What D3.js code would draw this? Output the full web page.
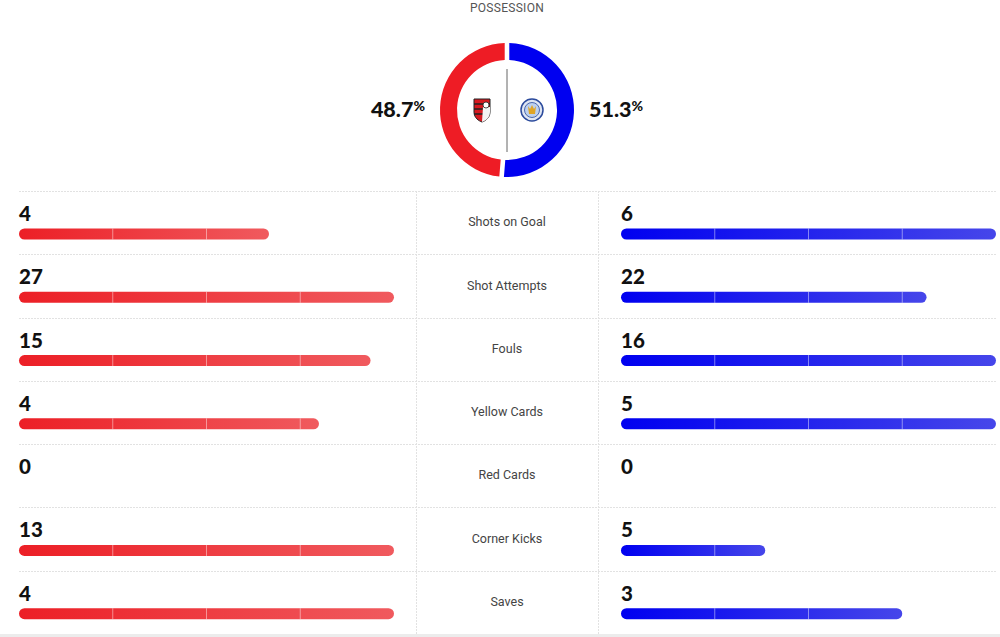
<!DOCTYPE html>
<html>
  <head>
    <meta charset="utf-8">
    <title>Match stats</title>
    <script src="https://d3js.org/d3.v7.min.js"></script>
    <style>
      body { margin: 0; background: #fff; }
      .num { font-family: Lato, "DejaVu Sans", sans-serif; font-weight: 900; fill: #111; }
      .label { font-family: Roboto, "Liberation Sans", sans-serif; font-size: 12.5px; fill: #444; }
      .title { font-family: Roboto, "Liberation Sans", sans-serif; font-size: 12px; fill: #555; letter-spacing: 0.3px; }
      .sep { stroke: #e2e2e2; stroke-width: 1; stroke-dasharray: 2 1; }
    </style>
  </head>
  <body>
    <svg id="chart" width="1000" height="637"></svg>
    <script>
      // data
      var statLabels = ["Shots on Goal", "Shot Attempts", "Fouls", "Yellow Cards", "Red Cards", "Corner Kicks", "Saves"];
      var homeValues = [4, 27, 15, 4, 0, 13, 4];
      var awayValues = [6, 22, 16, 5, 0, 5, 3];
      var possession = [48.7, 51.3]; // home, away
      var teamColours = ["#ee1c25", "#0000f0"];

      var svg = d3.select("#chart");
      var defs = svg.append("defs");
      var grads = [["redGrad", "#ec1f26", "#f05a5e"], ["blueGrad", "#0000f0", "#4646ea"]];
      grads.forEach(function(g) {
        var lg = defs.append("linearGradient").attr("id", g[0])
          .attr("x1", "0%").attr("x2", "100%").attr("y1", "0%").attr("y2", "0%");
        lg.append("stop").attr("offset", "0%").attr("stop-color", g[1]);
        lg.append("stop").attr("offset", "100%").attr("stop-color", g[2]);
      });

      // possession donut
      var cx = 507, cy = 110;
      svg.append("text").attr("class", "title")
        .attr("x", cx).attr("y", 12).attr("text-anchor", "middle")
        .text("POSSESSION");
      var pie = d3.pie().sort(null).padAngle(0.055);
      var arc = d3.arc().innerRadius(50).outerRadius(67);
      var donut = svg.append("g").attr("transform", "translate(" + cx + "," + cy + ")");
      donut.selectAll("path")
        .data(pie([possession[1], possession[0]]))
        .enter().append("path")
          .attr("d", arc)
          .attr("fill", function(d, i) { return i === 0 ? teamColours[1] : teamColours[0]; });
      donut.append("line")
        .attr("x1", 0).attr("x2", 0).attr("y1", -41).attr("y2", 42)
        .attr("stroke", "#666").attr("stroke-width", 1);

      // crests (simplified)
      var home = donut.append("g").attr("transform", "translate(-25,0)");
      home.append("path")
        .attr("d", "M-8,-11 L8,-11 L8,2 C8,8 3,11 0,12 C-3,11 -8,8 -8,2 Z")
        .attr("fill", "#d71920").attr("stroke", "#222").attr("stroke-width", 1);
      home.append("path").attr("d", "M-8,-6 L8,-6 M-8,-1 L8,-1 M-8,4 L8,4")
        .attr("stroke", "#222").attr("stroke-width", 1.6);
      home.append("path").attr("d", "M1,-3 L8,-3 L8,2 C8,8 3,11 0,12 Z").attr("fill", "#f4f4f4");
      home.append("circle").attr("cx", 4).attr("cy", -5).attr("r", 3).attr("fill", "#fff").attr("stroke", "#222").attr("stroke-width", 0.8);
      var away = donut.append("g").attr("transform", "translate(25,0)");
      away.append("circle").attr("r", 11).attr("fill", "#dfe6f3").attr("stroke", "#2b4a9c").attr("stroke-width", 1.5);
      away.append("circle").attr("r", 7.5).attr("fill", "#bcd0ee").attr("stroke", "#2b4a9c").attr("stroke-width", 0.8);
      away.append("path").attr("d", "M-4,-4 L-2,-1 L0,-5 L2,-1 L4,-4 L3,4 L-3,4 Z").attr("fill", "#e0a526");

      // possession percentages
      var pctFmt = d3.format(".1f");
      var pl = svg.append("text").attr("class", "num").attr("x", 425).attr("y", 117).attr("text-anchor", "end");
      pl.append("tspan").attr("font-size", 21.5).text(pctFmt(possession[0]));
      pl.append("tspan").attr("font-size", 14).attr("dy", -6).text("%");
      var pr = svg.append("text").attr("class", "num").attr("x", 589).attr("y", 117);
      pr.append("tspan").attr("font-size", 21.5).text(pctFmt(possession[1]));
      pr.append("tspan").attr("font-size", 14).attr("dy", -6).text("%");

      // stat rows
      var rowY = d3.scaleLinear().domain([0, statLabels.length]).range([191, 634]);
      var barLeft = [19, 621], barWidth = 375;

      // separators and column borders
      svg.selectAll(".sep.h")
        .data(d3.range(statLabels.length + 1))
        .enter().append("line")
          .attr("class", "sep h")
          .attr("x1", 19).attr("x2", 996)
          .attr("y1", function(d) { return Math.round(rowY(d)) + 0.5; })
          .attr("y2", function(d) { return Math.round(rowY(d)) + 0.5; });
      [416.5, 598.5].forEach(function(x) {
        svg.append("line").attr("class", "sep")
          .attr("x1", x).attr("x2", x).attr("y1", rowY(0)).attr("y2", rowY(statLabels.length));
      });

      statLabels.forEach(function(label, i) {
        var top = rowY(i);
        var vals = [homeValues[i], awayValues[i]];
        var x = d3.scaleLinear().domain([0, d3.max(vals) || 1]).range([0, barWidth]);
        var row = svg.append("g").attr("transform", "translate(0," + top + ")");
        row.append("text").attr("class", "label")
          .attr("x", 507).attr("y", 32).attr("text-anchor", "middle")
          .attr("dominant-baseline", "middle")
          .text(label);
        vals.forEach(function(v, side) {
          row.append("text").attr("class", "num")
            .attr("x", barLeft[side]).attr("y", 30)
            .attr("font-size", 20.5)
            .text(v);
          if (v > 0) {
            var w = x(v);
            row.append("rect")
              .attr("x", barLeft[side]).attr("y", 37.5)
              .attr("width", w).attr("height", 11)
              .attr("rx", 5.5)
              .attr("fill", side === 0 ? "url(#redGrad)" : "url(#blueGrad)");
            // segment dividers at quarters of full width
            row.selectAll(null)
              .data([1, 2, 3].filter(function(k) { return barWidth * k / 4 < w - 3; }))
              .enter().append("line")
                .attr("x1", function(k) { return barLeft[side] + barWidth * k / 4; })
                .attr("x2", function(k) { return barLeft[side] + barWidth * k / 4; })
                .attr("y1", 37.5).attr("y2", 48.5)
                .attr("stroke", "#fff").attr("stroke-opacity", 0.45).attr("stroke-width", 1);
          }
        });
      });

      // bottom band
      svg.append("rect").attr("x", 0).attr("y", 634).attr("width", 1000).attr("height", 3).attr("fill", "#ececec");
    </script>
  </body>
</html>
